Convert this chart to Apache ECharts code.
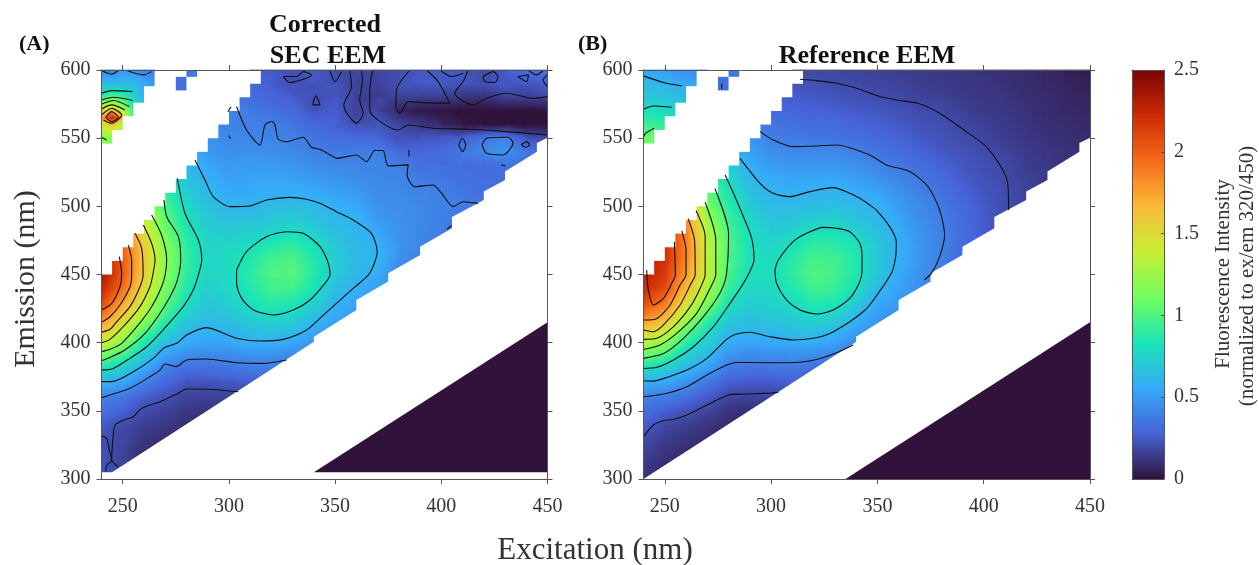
<!DOCTYPE html>
<html><head><meta charset="utf-8">
<style>html,body{margin:0;padding:0;background:#fff}#c{width:1259px;height:565px}</style>
<script src="https://cdn.jsdelivr.net/npm/echarts@6/dist/echarts.min.js"></script>
</head><body><div id="c"></div>
<script>
const excitationTicks=[250,300,350,400,450];
const emissionTicks=[300,350,400,450,500,550,600];
const turboColors=['#30123b','#4662d7','#36aaf9','#1ae4b6','#72fe5e','#c8ef34','#faba39','#f66b19','#cb2a04','#7a0403'];
const exLevels=[240,250,260,270,280,290,300,310,320,330,340,350,360,370,380,390,400,410,420,430,440,450];
// each column: first emission value, then intensity every 10 nm
const gridA=[
[300,.24,.23,.22,.2,.27,.33,.4,.58,.8,1.1,1.4,1.65,1.93,2.12,2.25,2.35,2.35],
[300,.18,.17,.17,.19,.19,.28,.36,.53,.7,.93,1.2,1.38,1.6,1.75,1.95,2.02,2.02,2,1.95],
[310,.08,.1,.13,.16,.19,.27,.38,.53,.71,.83,1.05,1.28,1.4,1.5,1.58,1.6,1.58,1.5,1.4,1.3],
[320,.08,.1,.13,.17,.21,.3,.38,.5,.65,.8,.94,1.05,1.13,1.19,1.2,1.18,1.12,1.05,.98,.92,.85],
[330,.08,.1,.13,.17,.22,.32,.44,.55,.64,.74,.8,.86,.9,.92,.9,.87,.82,.78,.72,.67,.62,.58],
[340,.08,.11,.16,.22,.32,.42,.52,.6,.65,.7,.73,.76,.77,.76,.74,.71,.67,.63,.59,.54,.5,.45,.42],
[350,.12,.17,.23,.34,.43,.54,.62,.68,.73,.77,.79,.79,.77,.72,.66,.6,.56,.52,.49,.45,.43,.41,.41,.37],
[360,.15,.25,.36,.45,.58,.66,.74,.81,.86,.88,.86,.81,.74,.67,.6,.56,.53,.5,.46,.42,.39,.37,.33,.3,.28],
[370,.25,.36,.46,.58,.69,.8,.89,.96,1,.97,.88,.77,.7,.63,.58,.54,.5,.45,.4,.4,.33,.28,.27,.25],
[380,.32,.42,.55,.66,.76,.86,.96,1.02,1,.92,.81,.73,.65,.58,.52,.47,.43,.4,.34,.3,.27,.2,.22],
[390,.38,.47,.56,.66,.75,.83,.87,.86,.81,.74,.67,.62,.56,.5,.44,.39,.35,.3,.23,.2,.24,.25],
[400,.45,.5,.55,.61,.66,.7,.72,.7,.66,.63,.58,.52,.47,.43,.37,.32,.28,.26,.25,.21,.2],
[410,.46,.5,.54,.59,.62,.64,.63,.61,.6,.55,.5,.45,.41,.38,.32,.2,.17,.16,.18,.17],
[420,.46,.48,.51,.57,.6,.6,.55,.5,.46,.44,.42,.42,.4,.28,.23,.2,.15,.16,.19],
[440,.38,.42,.46,.47,.47,.46,.45,.44,.42,.39,.3,.22,.19,.06,.17,.22,.2],
[450,.37,.4,.42,.42,.43,.43,.41,.37,.33,.3,.23,.13,.03,.15,.25,.25],
[460,.35,.37,.38,.39,.4,.4,.36,.33,.3,.25,.08,.01,.15,.25,.25],
[470,.33,.34,.36,.38,.35,.34,.32,.37,.26,.02,0,.12,.22,.25],
[480,.32,.33,.36,.34,.33,.31,.42,.36,0,0,.1,.22,.18],
[490,.3,.32,.33,.33,.33,.48,.4,0,0,.16,.26,.24],
[510,.3,.32,.32,.36,.22,0,0,.16,.22,.35],
[520,.3,.3,.3,.2,0,0,.18,.28,.33]];
const gridB=[
[300,.12,.13,.17,.2,.27,.33,.4,.56,.78,1.07,1.33,1.62,1.9,2.1,2.22,2.28,2.3],
[300,.08,.1,.12,.15,.19,.27,.38,.52,.72,.95,1.2,1.48,1.72,1.92,2.08,2.15,2.2,2.2,2.2],
[310,.07,.1,.12,.16,.22,.33,.45,.6,.73,.88,1.1,1.33,1.5,1.67,1.78,1.85,1.87,1.87,1.85,1.8],
[320,.07,.1,.12,.18,.25,.35,.5,.62,.72,.8,.98,1.18,1.3,1.37,1.38,1.38,1.33,1.25,1.15,1.05,.95],
[330,.06,.09,.12,.18,.26,.36,.46,.57,.65,.73,.82,.92,.98,1,1,.98,.95,.88,.84,.78,.72,.65],
[340,.07,.1,.17,.24,.34,.43,.53,.62,.68,.73,.77,.8,.82,.82,.8,.77,.72,.67,.62,.57,.52,.48,.44],
[350,.1,.18,.24,.34,.44,.55,.63,.7,.75,.78,.8,.79,.76,.72,.67,.63,.59,.56,.5,.45,.39,.35,.31,.27],
[360,.15,.27,.36,.44,.57,.66,.74,.79,.86,.9,.88,.82,.76,.69,.63,.59,.54,.49,.42,.37,.33,.29,.26,.23,.2],
[370,.2,.3,.43,.57,.68,.79,.88,.96,1,.98,.92,.83,.73,.65,.59,.54,.48,.42,.36,.32,.28,.25,.21,.19],
[380,.25,.39,.52,.63,.76,.85,.93,.97,.95,.9,.82,.74,.66,.6,.55,.48,.42,.35,.31,.27,.23,.2,.18],
[390,.3,.43,.53,.62,.72,.81,.85,.86,.83,.76,.69,.62,.57,.51,.46,.4,.33,.29,.25,.22,.19,.17],
[400,.4,.45,.5,.56,.63,.68,.7,.69,.66,.63,.59,.54,.47,.41,.35,.3,.27,.24,.2,.18,.16],
[410,.42,.46,.5,.53,.56,.58,.59,.57,.54,.5,.46,.42,.36,.32,.28,.25,.22,.19,.17,.15],
[420,.42,.44,.45,.46,.48,.48,.47,.45,.43,.41,.36,.32,.28,.25,.22,.2,.17,.15,.14],
[440,.36,.38,.39,.4,.4,.39,.37,.34,.31,.28,.25,.22,.21,.19,.16,.14,.13],
[450,.3,.31,.32,.32,.31,.3,.28,.26,.24,.22,.2,.18,.16,.14,.13,.12],
[460,.25,.26,.26,.26,.25,.24,.22,.21,.2,.18,.16,.14,.13,.12,.11],
[470,.2,.2,.2,.2,.2,.2,.19,.17,.15,.14,.13,.12,.11,.1],
[480,.17,.17,.17,.17,.16,.15,.14,.13,.12,.11,.1,.09,.09],
[490,.14,.14,.14,.14,.13,.12,.11,.1,.09,.09,.08,.07],
[510,.12,.12,.11,.11,.1,.09,.08,.07,.06,.05],
[520,.1,.1,.1,.09,.08,.07,.06,.05,.04]];
// second-order patch at the top left: 5 nm x 5 nm in A, 10 nm x 10 nm in B
const patchExA=[240,245,250,255,260,265];
const patchA=[
[545,1.15,1.2,1.3,1.45,1.62,1.45,1.2,.92,.72,.62,.52,.45],
[545,1.1,1.2,1.4,1.6,2.4,1.65,1.3,1.05,.78,.66,.5,.4],
[545,1,1.1,1.2,1.35,1.6,1.35,1.1,.95,.78,.64,.55,.48],
[545,.9,.9,.9,.9,.9,.9,.85,.75,.72,.62,.55,.48],
[545,.8,.8,.8,.8,.75,.7,.65,.6,.57,.55,.48,.4],
[545,.6,.6,.6,.6,.6,.6,.6,.55,.52,.48,.44,.38]];
const patchExB=[240,250,260,270];
const patchB=[[540,1.2,1.1,.95,.82,.7,.63,.55],[540,1.15,1.05,.9,.8,.68,.6,.5],[560,.85,.72,.62,.55,.45],[580,.55,.5,.42]];
const specks=[[275,280,585,595,.33],[280,285,595,600,.36]];
const bandStairs=[240,450,245,450,245,460,250,460,250,470,255,470,255,480,260,480,260,490,265,490,265,500,270,500,270,510,275,510,275,520,280,520,280,530,285,530,285,540,290,540,290,550,295,550,295,560,300,560,300,570,305,570,305,580,310,580,310,590,315,590,315,600,265,600,265,588,260,588,260,576,255,576,255,566,250,566,250,556,245,556,245,546,240,546];
const edgeStairs=[340,400.7,340,404.4,360,424,360,431.3,375,444.8,375,451,390,464.3,390,470.4,405,484,405,492.2,420,504.7,420,510.8,430,519.4,430,525.5,445,540,445,546.5,450,550.3,450,300,240,300];
const edgeStartA=[240,305,245,305];
const edgeStartB=[240,300];
const triangleA=[340,305,450,415,450,305];
const triangleB=[335,300,450,415,450,300];
const contoursA=[
[247.9,309,244.8,313.9,245.6,333.4,246.4,339.6,250.3,343.2,255,345.7,258.9,351.8,267.5,356.7,275.4,362.3,280.1,366,292.7,365.7,304.4,364],
[240,331.7,242.4,329.8,243.7,321.2,244.8,313.9,242.1,309,242.1,305.3],
[240,359.6,244,361.6,253.4,366.5,262.8,375,267.5,379.9,269.9,384.3,275.1,382.4,280.1,387.3,289.5,388,303.6,385.3,316.2,384.8,327.2,387.3],
[240,371.4,244.8,371.4,255,378.7,264.4,388.5,269.9,396.6,275.4,399.5,280.1,405.6,289.5,411,303.6,403.2,314.6,401.2,325.6,402.4,336.6,409.3,342.8,417.8,350.6,428.8,358.5,439.8,366.3,450.9,369.8,466.8,367.1,480.2,358.5,490,350.6,496.1,342.8,502.2,336.6,505.2,328.7,506.6,317.8,504.7,309.9,500.3,300.5,499.8,292.6,507.1,288.7,519.3,284,534],
[303.6,453.3,303.6,443.5,306,432.5,311.5,424,320.9,420.3,330.3,423.9,338.2,431.3,345.2,443.5,347.6,449.6,346.8,458.2,342.9,470.4,335,480.2,327.2,481.4,317.8,477.8,308.3,466.8,303.6,453.3],
[275.7,520.6,279.3,494.9,285.6,475.3,287.2,460.6,285.6,449.6,283.2,438.6,278.5,426.4,267.5,406.8,261.3,397,253.4,388.5,245.6,381.1,240,379.9],
[269.4,504.7,270.7,492.4,276.2,477.8,277.3,460.6,276.4,450,274.6,441,269.1,425.2,260.5,406.8,251,394.6,244,389.2,240,386.8],
[263.6,493.7,268.3,479,270.7,460.6,270,450,268.3,441,263.6,426.4,256.6,411.7,249.5,399.5,244,395.1,240,393.4],
[259.7,486.3,263.6,472.9,265.2,460.6,264.2,450,262.8,441,258.1,426.4,251,413,244,402.4,240,400],
[255.8,480.2,258.9,469.2,259.6,450,258.1,441,253.4,426.4,247.2,415.4,244,409.8,240,407.6],
[252.6,471.6,254.2,460.6,254.2,450,253.4,441,248.7,427.6,244,419,240,414.9],
[248.4,463.1,249.5,450,248.7,441,244.8,428.8,240,423.9],
[303.6,573.2,308.3,556,314.6,545,317,559.7,320.1,562.2,321.7,559.7,323.2,549.2,327.2,547.5,335,550.7,338.9,543.3,342.8,541.8,349,536.5,350.6,535.2,360,537.7,364.8,532.8,368.7,540.9,372.6,540.9,375,529.6,384.4,530.4,383.9,523,387.5,514.4,396.1,515.7,400.1,509.6,405.6,499.8,410.3,503.4,417.3,502.2],
[367.9,600,367.1,595.2,366.3,585,366.3,570.7,379.7,556,384.4,559.7,396.1,557.3,413.4,556.5,430.7,554.8,450,552.4],
[356.9,600,357.7,587.8,354.1,574.4,356.1,567,360,561,363.2,568.3,361.6,578,362.9,592.7,362.4,600],
[385.2,600,378.9,585.4,378.6,571.9,380.5,568.3,384.4,576.8,391.4,576.1,404,575.6,398.5,591.5,393,600],
[412.6,600,410.3,591.5,406.3,582.9,415,574.4,421.3,579.3,430.7,583,443.2,579.3,450,580.5],
[347.5,600,349.9,591.5,353,598.8],
[399.3,600,404.8,595.2,410.3,597.6],
[419.7,595.2,424.4,598.8,426.7,595.2,425.2,590.8,420.5,591.5,419.7,595.2],
[436,595.2,441,596.4,440.2,591.5,436,595.2],
[440.8,600,444.8,596.4,448.2,600],
[450,596.4,447.9,592.7,450,587.8],
[325.6,595.2,328.7,590.8,338.9,596.4,335,598.8,331.9,595.2,325.6,595.2],
[339.4,574.4,341,581,342.9,574.4,339.4,574.4],
[408.2,545,410,549.9,411.5,545,410,540.1,408.2,545],
[419.2,545,421.3,549.9,431.4,550.7,433.8,546.2,431.4,540.1,429.1,537.7,421.3,538.9,419.2,545],
[437.7,545,440,547.5,441.6,545,439.8,543.3,437.7,545],
[384.8,541.4,384.8,536.5],[428.3,530.4,430.2,529.6],[402.7,483.4,404.8,485.8],
[300,552,300.8,549.5],[299.5,569.5,301,573],
[240,583,244.8,584.9,254.7,584.2],
[240,578,245.6,580,254.7,577.6],
[240,574.9,245.6,577.6,253.1,573.2],
[240,571.4,244.8,574.4,251,570.7],
[240,567,244.8,571.9,249.5,567,244.8,560.9,240.9,563.4],
[242.1,565.3,244.8,569.5,247.9,565.3,244.8,562.1,242.1,565.3],
[240,550.7,242.4,548.7],
[240,599.6,244.8,596.9,247.9,599.6],[251.9,599.6,259.7,596.4,263.6,598.8]];
const contoursB=[
[240,331,244.7,339.6,249.4,342.7,254,343.7,260.4,346.9,269.8,354.2,280,361.6,287,362.3,296.4,362.8,303.4,363.5],
[240,360.3,249.4,362.3,260.4,367.7,269.8,376.3,279.1,383.6,283.8,385.5,296.4,385.3,308.9,385.3,321.4,387.7,330.8,392.6,338.6,398.3],
[240,372.1,244.7,371.8,251,374.5,260.4,379.9,269.8,388.5,279.1,402.4,283.8,406.3,290,407.6,299.5,404.4,310.4,402,319.8,403.2,327.7,406.8,337,415.4,343.3,422.7,346.4,427.6,356.6,450.9,358.6,463,358.9,474,355.8,485.1,349.5,497.3,346.4,501,341.7,505.9,337,509.6,329.2,513.7,318.3,510.8,308.9,507.1,301,509.6,294.8,516.9,285.4,535.2],
[301.8,453.3,302.6,443.5,307.3,431.3,313.6,424,321.4,421,329.2,424,337,432.5,341.7,444.7,342.8,453,342.8,463.1,341.7,472.9,337,481.4,330.8,483.9,324.5,484.6,316.7,480.2,310.4,474.1,303.4,460.6,301.8,453.3],
[278.4,523,282.3,509.6,287,492.4,290.9,476.5,292,460.6,289.3,450,287,443.5,280.7,428.8,272.9,411.7,263.5,397,254.1,387.3,246.3,381.9,240,381.1],
[273.6,513,280,480,279,450,276,436.5,268.2,419.1,258.8,403.2,249.4,392,240,388.5],
[269,503,274,475,274,450,271.3,439.8,265,421.5,255.6,406.8,247.8,398.3,240,395],
[264.7,497,269,478,269,450,266.6,439.8,262,426.4,254.1,411.7,246.3,403.2,240,402.4],
[261,491,264,475,264.3,450,262,442.3,257.2,427.6,249.4,413,244.7,408,240,409.3],
[258,482,260,468,260,450,257.2,442.3,252.5,427.6,246.3,417.8,240,416.6],
[254.5,474,255,450,253.3,443.5,249.4,432.5,244.7,427.6,242.3,438.6,241.5,453.3],
[294.8,554.8,301,548.7,310.4,543.8,321.4,544.3,330.8,545,346.4,537.7,354.2,530.4,365.2,525.5,373.8,514.5,379.3,497.3,381.6,479,379.3,463.1,375.4,450.8,372.2,446],
[313.6,593.2,321.4,592.2,330.8,590.3,340.2,586.6,351.1,580.5,360.5,577.6,369.1,575.6,379.3,568.3,391.8,554.8,401.2,543.8,409,526.7,411.3,516.9,411.7,497.3],
[240,595.7,249.4,590.8,258,588.3],
[240,571.2,244.7,573.6,253.3,572.7],
[240,550.7,241,553.6,245,557.3],
[276.8,590,276.8,586]];

const serif='"Liberation Serif","Times New Roman",serif';
const toRGB=h=>[1,3,5].map(i=>parseInt(h.substr(i,2),16));
const turboRGB=turboColors.map(toRGB);
function colorOf(v){
  const t=Math.max(0,Math.min(1,v/2.5))*(turboRGB.length-1);
  const i=Math.min(turboRGB.length-2,Math.floor(t)),f=t-i;
  const c=turboRGB[i].map((a,k)=>Math.round(a+(turboRGB[i+1][k]-a)*f));
  return 'rgb('+c.join(',')+')';
}
function cellsOf(exs,cols,step){
  const out=[];
  const at=(i,em)=>{const c=cols[i];const j=Math.round((em-c[0])/step)+1;return (j>=1&&j<c.length)?c[j]:null;};
  for(let i=0;i<exs.length-1;i++){
    const lo=cols[i][0],hi=lo+(cols[i].length-2)*step;
    for(let em=lo;em<hi;em+=step){
      const a=at(i,em),b=at(i+1,em),c=at(i,em+step),d=at(i+1,em+step);
      if(a===null||b===null||c===null||d===null)continue;
      out.push([exs[i],exs[i+1],em,em+step,a,b,c,d]);
    }
  }
  return out;
}
function renderCell(p,api){
  const a=api.coord([api.value(0),api.value(2)]),b=api.coord([api.value(1),api.value(3)]);
  const v00=api.value(4),v10=api.value(5),v01=api.value(6),v11=api.value(7);
  const w=b[0]-a[0],h=b[1]-a[1],cx=(a[0]+b[0])/2,cy=(a[1]+b[1])/2,vc=(v00+v10+v01+v11)/4;
  const gx=((v10+v11)-(v00+v01))/2/w,gy=((v01+v11)-(v00+v10))/2/h,g=Math.hypot(gx,gy);
  let fill;
  if(g<1e-7)fill=colorOf(vc);
  else{
    const L=(Math.abs(gx)*Math.abs(w)/2+Math.abs(gy)*Math.abs(h)/2)/g,ux=gx/g,uy=gy/g,stops=[];
    for(let i=0;i<=6;i++){stops.push({offset:i/6,color:colorOf(vc-g*L+2*g*L*i/6)});}
    fill={type:'linear',global:true,x:cx-ux*L,y:cy-uy*L,x2:cx+ux*L,y2:cy+uy*L,colorStops:stops};
  }
  return {type:'rect',shape:{x:Math.min(a[0],b[0])-.4,y:Math.min(a[1],b[1])-.4,width:Math.abs(w)+.8,height:Math.abs(h)+.8},style:{fill:fill}};
}
const pairs=f=>{const o=[];for(let i=0;i<f.length;i+=2)o.push([f[i],f[i+1]]);return o;};
function polySeries(flat,fill,idx,z){
  const pts=pairs(flat);
  return {type:'custom',xAxisIndex:idx,yAxisIndex:idx,silent:true,z:z,data:[pts[0]],
    renderItem:(p,api)=>({type:'polygon',shape:{points:pts.map(q=>api.coord(q))},style:{fill:fill}})};
}
const cellSeries=(exs,cols,step,idx)=>({type:'custom',xAxisIndex:idx,yAxisIndex:idx,silent:true,z:1,
  encode:{x:[0,1],y:[2,3]},data:cellsOf(exs,cols,step),renderItem:renderCell});
const contourSeries=(list,idx)=>list.map(f=>({type:'line',xAxisIndex:idx,yAxisIndex:idx,silent:true,z:4,showSymbol:false,
  smooth:.25,data:pairs(f),lineStyle:{color:'#111',width:1.1}}));
const speckSeries=idx=>({type:'custom',xAxisIndex:idx,yAxisIndex:idx,silent:true,z:3,data:specks,encode:{x:[0,1],y:[2,3]},
  renderItem:(p,api)=>{const a=api.coord([api.value(0),api.value(3)]),b=api.coord([api.value(1),api.value(2)]);
    return {type:'rect',shape:{x:a[0],y:a[1],width:b[0]-a[0],height:b[1]-a[1]},style:{fill:colorOf(api.value(4))}};}});

const line={lineStyle:{color:'#555',width:1}};
const tick={length:5,lineStyle:{color:'#555',width:1}};
const lab={fontFamily:serif,fontSize:20,color:'#333'};
function xAx(g,pos,show){return {gridIndex:g,type:'value',position:pos,min:240,max:450,z:6,
  axisLine:Object.assign({onZero:false,show:true},line),splitLine:{show:false},
  axisTick:Object.assign({show:true,customValues:excitationTicks},tick),
  axisLabel:Object.assign({show:show,margin:18,customValues:excitationTicks},lab)};}
function yAx(g,pos,show){return {gridIndex:g,type:'value',position:pos,min:300,max:600,interval:50,z:6,
  axisLine:Object.assign({onZero:false,show:true},line),splitLine:{show:false},
  axisTick:Object.assign({show:true},tick),
  axisLabel:Object.assign({show:show,margin:11,padding:[4,0,0,0],customValues:emissionTicks},lab)};}

const cbarX=g=>({gridIndex:2,type:'value',position:g,min:0,max:1,z:6,axisLine:Object.assign({onZero:false,show:true},line),axisTick:{show:false},axisLabel:{show:false},splitLine:{show:false}});
const option={
  animation:false,backgroundColor:'#fff',
  grid:[{left:101.5,top:70,width:446,height:409},{left:643.5,top:70,width:446.5,height:409},{left:1132,top:70,width:32,height:409}],
  xAxis:[xAx(0,'bottom',true),xAx(0,'top',false),xAx(1,'bottom',true),xAx(1,'top',false),cbarX('bottom'),cbarX('top')],
  yAxis:[yAx(0,'left',true),yAx(0,'right',false),yAx(1,'left',true),yAx(1,'right',false),
    {gridIndex:2,type:'value',position:'right',min:0,max:2.5,interval:.5,z:6,axisLine:Object.assign({onZero:false,show:true},line),
     axisTick:{show:true,inside:true,length:3,lineStyle:{color:'#555'}},splitLine:{show:false},axisLabel:Object.assign({margin:10,padding:[4,0,0,0]},lab)},
    {gridIndex:2,type:'value',position:'left',min:0,max:2.5,z:6,axisLine:Object.assign({onZero:false,show:true},line),axisTick:{show:false},axisLabel:{show:false},splitLine:{show:false}}],
  series:[
    cellSeries(exLevels,gridA,10,0),
    cellSeries(patchExA,patchA,5,0),
    polySeries(bandStairs,'#fff',0,2),
    polySeries(edgeStartA.concat(edgeStairs),'#fff',0,2),
    polySeries(triangleA,turboColors[0],0,3),
    speckSeries(0),
    ...contourSeries(contoursA,0),
    cellSeries(exLevels,gridB,10,2),
    cellSeries(patchExB,patchB,10,2),
    polySeries(bandStairs,'#fff',2,2),
    polySeries(edgeStartB.concat(edgeStairs),'#fff',2,2),
    polySeries(triangleB,turboColors[0],2,3),
    speckSeries(2),
    ...contourSeries(contoursB,2),
    {type:'custom',xAxisIndex:4,yAxisIndex:4,silent:true,z:1,data:[[0,0]],
     renderItem:(p,api)=>{const a=api.coord([0,2.5]),b=api.coord([1,0]);
       return {type:'rect',shape:{x:a[0],y:a[1],width:b[0]-a[0],height:b[1]-a[1]},
        style:{fill:{type:'linear',x:0,y:1,x2:0,y2:0,colorStops:turboColors.map((c,i)=>({offset:i/(turboColors.length-1),color:c}))}}};}}
  ],
  graphic:[
    {type:'text',x:19,y:33,style:{text:'(A)',font:'bold 22px '+serif,fill:'#111'}},
    {type:'text',x:578,y:33,style:{text:'(B)',font:'bold 22px '+serif,fill:'#111'}},
    {type:'text',x:325,y:25,style:{text:'Corrected',font:'bold 26px '+serif,fill:'#111',align:'center',verticalAlign:'middle'}},
    {type:'text',x:328,y:56,style:{text:'SEC EEM',font:'bold 26px '+serif,fill:'#111',align:'center',verticalAlign:'middle'}},
    {type:'text',x:867,y:56,style:{text:'Reference EEM',font:'bold 26px '+serif,fill:'#111',align:'center',verticalAlign:'middle'}},
    {type:'text',x:595,y:551,style:{text:'Excitation (nm)',font:'31px '+serif,fill:'#333',align:'center',verticalAlign:'middle'}},
    {type:'text',x:26,y:279,rotation:Math.PI/2,style:{text:'Emission (nm)',font:'30px '+serif,fill:'#333',align:'center',verticalAlign:'middle'}},
    {type:'text',x:1223,y:274,rotation:Math.PI/2,style:{text:'Fluorescence Intensity',font:'21px '+serif,fill:'#333',align:'center',verticalAlign:'middle'}},
    {type:'text',x:1247,y:276,rotation:Math.PI/2,style:{text:'(normalized to ex/em 320/450)',font:'21px '+serif,fill:'#333',align:'center',verticalAlign:'middle'}}
  ]
};
echarts.init(document.getElementById('c')).setOption(option);
</script></body></html>
